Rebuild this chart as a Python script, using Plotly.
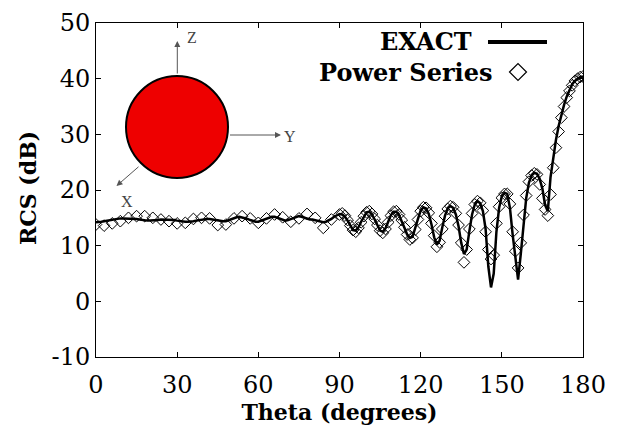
import plotly.graph_objects as go

# ---------------- data ----------------
theta_exact = list(range(0, 181))
rcs_exact = [
    14.2, 14.2, 14.3, 14.4, 14.5, 14.6, 14.7, 14.8, 14.8, 14.9,
    14.9, 14.9, 14.9, 14.9, 14.8, 14.8, 14.7, 14.6, 14.6, 14.5,
    14.5, 14.5, 14.6, 14.6, 14.7, 14.7, 14.7, 14.7, 14.6, 14.6,
    14.5, 14.4, 14.4, 14.3, 14.3, 14.3, 14.4, 14.5, 14.6, 14.7,
    14.8, 14.8, 14.8, 14.7, 14.6, 14.5, 14.4, 14.4, 14.4, 14.6,
    14.8, 15.0, 15.1, 15.2, 15.1, 15.0, 14.8, 14.6, 14.4, 14.3,
    14.3, 14.5, 14.7, 14.9, 15.1, 15.2, 15.2, 15.0, 14.8, 14.6,
    14.5, 14.6, 14.8, 15.0, 15.2, 15.3, 15.2, 15.0, 14.8, 14.7,
    14.7, 14.6, 14.4, 14.3, 14.2, 14.3, 14.5, 14.8, 15.2, 15.5,
    15.7, 15.6, 15.2, 14.5, 13.5, 12.8, 12.7, 13.3, 14.3, 15.3,
    16.0, 16.1, 15.6, 14.7, 13.6, 12.7, 12.5, 13.1, 14.3, 15.5,
    16.1, 16.1, 15.5, 14.5, 13.2, 12.0, 11.4, 11.6, 13.0, 14.8,
    16.3, 16.9, 16.7, 15.7, 13.8, 11.5, 10.2, 10.9, 13.3, 15.4,
    16.7, 17.1, 16.8, 15.6, 13.5, 10.5, 8.5, 9.3, 12.6, 15.6,
    17.4, 18.0, 17.6, 16.2, 13.0, 6.3, 2.5, 5.0, 12.5, 16.8,
    18.9, 19.5, 19.3, 16.8, 12.0, 7.5, 3.9, 8.5, 14.0, 18.5,
    21.3, 22.6, 23.1, 22.9, 22.0, 20.2, 17.3, 16.2, 22.3, 26.0,
    29.0, 31.5, 33.5, 35.3, 36.8, 38.0, 39.0, 39.6, 40.0, 40.3,
    40.4,
]

theta_ps = list(range(0, 91, 3)) + list(range(91, 181))
rcs_ps = [
    13.8, 13.6, 14.0, 14.4, 15.0, 15.3, 15.3, 15.0, 14.7, 14.4,
    14.0, 14.1, 14.8, 15.0, 14.9, 13.7, 13.8, 14.9, 15.3, 14.9,
    14.1, 14.9, 15.6, 15.1, 14.3, 14.9, 15.7, 15.0, 13.2, 14.7,
    15.6,
    15.8, 15.4, 14.6, 13.6, 12.8, 12.5, 13.2, 14.2, 15.3, 16.0,
    16.2, 15.7, 14.8, 13.7, 12.7, 12.3, 13.0, 14.2, 15.4, 16.1,
    16.2, 15.6, 14.6, 13.3, 12.0, 11.1, 11.4, 12.9, 14.7, 16.2,
    16.9, 16.8, 15.9, 14.0, 11.8, 9.8, 10.6, 13.0, 15.3, 16.6,
    17.1, 16.9, 15.8, 13.7, 10.5, 7.0, 9.3, 13.0, 15.8, 17.4,
    18.0, 17.7, 16.3, 12.5, 9.3, 7.6, 8.3, 14.0, 17.0, 18.6,
    19.3, 19.3, 17.5, 12.5, 9.0, 6.0, 10.5, 15.5, 19.0, 21.5,
    22.6, 23.0, 22.8, 21.0, 18.5, 16.5, 15.4, 19.2, 24.0, 27.6,
    30.5, 33.0, 35.0, 36.6, 37.8, 38.8, 39.6, 40.0, 40.3, 40.4,
]

x_ticks = [0, 30, 60, 90, 120, 150, 180]
y_ticks = [-10, 0, 10, 20, 30, 40, 50]
series_names = ["EXACT", "Power Series"]
x_title = "Theta (degrees)"
y_title = "RCS (dB)"

# ---------------- layout geometry ----------------
W, H = 618, 427
L, R, T, B = 96, 35, 23, 70
PW, PH = W - L - R, H - T - B


def px(x):
    return (x - L) / PW


def py(y):
    return (H - B - y) / PH


fig = go.Figure()

fig.add_trace(go.Scatter(
    x=theta_ps, y=rcs_ps, mode="markers", name=series_names[1],
    marker=dict(symbol="diamond-open", size=9, color="black",
                line=dict(width=1, color="black")),
    showlegend=False,
))
fig.add_trace(go.Scatter(
    x=theta_exact, y=rcs_exact, mode="lines", name=series_names[0],
    line=dict(color="black", width=2.5),
    showlegend=False,
))

serif = "DejaVu Serif"
shapes = []
annotations = []

# ---- inset sphere ----
shapes.append(dict(type="circle", xref="paper", yref="paper",
                   x0=px(126), x1=px(228), y0=py(178), y1=py(76),
                   fillcolor="#EE0000", line=dict(color="black", width=2),
                   layer="above"))


def arrow(x0, y0, x1, y1):
    annotations.append(dict(
        xref="paper", yref="paper", x=px(x1), y=py(y1),
        axref="pixel", ayref="pixel", ax=x0 - x1, ay=y0 - y1,
        text="", showarrow=True, arrowhead=2, arrowsize=1.2,
        arrowwidth=1, arrowcolor="#555555", standoff=0, startstandoff=0))


arrow(177.3, 75, 177.3, 41)
arrow(228.5, 135, 281, 135)
arrow(140, 165.5, 116.5, 186)

for t, x, y in [("Z", 192, 38), ("Y", 290, 136), ("X", 127, 201)]:
    annotations.append(dict(xref="paper", yref="paper", x=px(x), y=py(y),
                            text=t, showarrow=False,
                            font=dict(family="Liberation Serif", size=16, color="#444444"),
                            xanchor="center", yanchor="middle"))

# ---- legend (text left of symbol) ----
legend_font = dict(family=serif, size=24, color="black", weight="bold")
annotations.append(dict(xref="paper", yref="paper", x=px(474), y=py(42),
                        text="<b>" + series_names[0] + "</b>", showarrow=False,
                        xanchor="right", yanchor="middle", font=legend_font))
annotations.append(dict(xref="paper", yref="paper", x=px(494), y=py(72),
                        text="<b>" + series_names[1] + "</b>", showarrow=False,
                        xanchor="right", yanchor="middle", font=legend_font))
shapes.append(dict(type="line", xref="paper", yref="paper",
                   x0=px(488), x1=px(547), y0=py(42), y1=py(42),
                   line=dict(color="black", width=4)))
cx, cy, d = 518, 72, 8.5
shapes.append(dict(
    type="path", xref="paper", yref="paper",
    path=f"M {px(cx - d)} {py(cy)} L {px(cx)} {py(cy - d)} L {px(cx + d)} {py(cy)} "
         f"L {px(cx)} {py(cy + d)} Z",
    line=dict(color="black", width=1.2), fillcolor="rgba(0,0,0,0)"))

# ---- y axis title (placed as annotation to match position) ----
annotations.append(dict(xref="paper", yref="paper", x=px(28), y=py(188),
                        text="<b>" + y_title + "</b>", showarrow=False, textangle=-90,
                        xanchor="center", yanchor="middle",
                        font=dict(family=serif, size=22, color="black")))

fig.update_layout(
    width=W, height=H,
    margin=dict(l=L, r=R, t=T, b=B, pad=0, autoexpand=False),
    paper_bgcolor="white", plot_bgcolor="white",
    shapes=shapes, annotations=annotations,
    showlegend=False,
)

axis_common = dict(showline=True, linecolor="black", linewidth=1, mirror="ticks",
                   ticks="inside", ticklen=5, tickcolor="black", showgrid=False,
                   zeroline=False, automargin=False,
                   tickfont=dict(family=serif, size=24, color="black"))

fig.update_xaxes(range=[0, 180], tickvals=x_ticks, ticktext=[str(v) for v in x_ticks],
                 ticklabelstandoff=6,
                 title=dict(text="<b>" + x_title + "</b>", standoff=2,
                            font=dict(family=serif, size=22, color="black")),
                 **axis_common)
fig.update_yaxes(range=[-10, 50], tickvals=y_ticks, ticktext=[str(v) for v in y_ticks],
                 **axis_common)

fig.write_html("out.html", config={"displayModeBar": False},
               post_script="document.body.style.margin='0px';"
                           "document.body.style.overflow='hidden';")
